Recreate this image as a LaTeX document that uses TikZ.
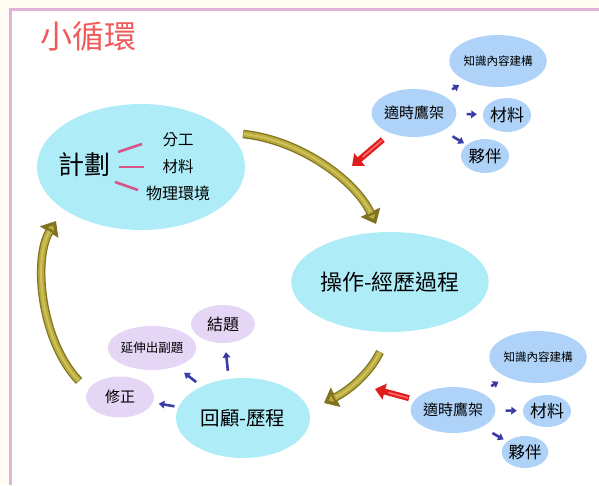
\documentclass[tikz,border=0pt]{standalone}
\usepackage{fontspec}
\setmainfont{Noto Sans CJK TC}
\usetikzlibrary{shapes.geometric,arrows.meta}
\definecolor{bgout}{HTML}{FFFCF4}
\definecolor{framec}{HTML}{E0B4D6}
\definecolor{titlec}{HTML}{F05A5A}
\definecolor{cyanE}{HTML}{AEEDF8}
\definecolor{blueE}{HTML}{AFD3F8}
\definecolor{lavE}{HTML}{E6D6F6}
\definecolor{pinkL}{HTML}{D8558A}
\definecolor{arrB}{HTML}{3B3BA8}
\definecolor{goldD}{HTML}{7F7320}
\definecolor{goldM}{HTML}{B9AA3E}
\definecolor{goldL}{HTML}{CFC25A}
\definecolor{redA}{HTML}{E01E1E}
\definecolor{redL}{HTML}{FF6A6A}
\tikzset{
  ell/.style={ellipse, draw=none, inner sep=0pt, text=black},
  cyanell/.style={ell, fill=cyanE},
  blueell/.style={ell, fill=blueE},
  lavell/.style={ell, fill=lavE},
  fs/.style={font=\fontsize{#1}{#1}\selectfont},
  bluearr/.style={draw=arrB, line width=2.6pt, -{Triangle[length=5.5pt,width=7.5pt]}},
  pinkline/.style={draw=pinkL, line width=2.6pt},
  goldbase/.style={draw=goldD, line width=8.5pt, -{Triangle[length=13pt,width=21pt,fill=goldM]}},
  goldmid/.style={draw=goldM, line width=6pt},
  goldhl/.style={draw=goldL, line width=2pt},
  redbase/.style={draw=redA, line width=6pt, -{Triangle[length=10pt,width=16pt,fill=redA]}},
  redhl/.style={draw=redL, line width=1.6pt},
}
\begin{document}
\begin{tikzpicture}[x=1pt,y=-1pt]
\useasboundingbox (0,0) rectangle (599,485);
\fill[bgout] (0,0) rectangle (599,485);
\fill[white] (10.5,9) rectangle (599,485);
\draw[framec, line width=3pt] (599,9) -- (10.5,9) -- (10.5,485);

% title
\node[fs=32, text=titlec] (title) at (88,36) {小循環};

% plan
\node[cyanell, minimum width=208pt, minimum height=126pt] (plan) at (141,167) {};
\node[fs=26] (plantxt) at (84,165) {計劃};
\node[fs=15.5] (p1) at (178,140) {分工};
\node[fs=15.5] (p2) at (178,167) {材料};
\node[fs=16] (p3) at (178,193) {物理環境};
\draw[pinkline] (118,152) -- (142,144);
\draw[pinkline] (119,167) -- (144,167);
\draw[pinkline] (115,182) -- (138,190);

% operation
\node[cyanell, fs=22, minimum width=168pt, minimum height=100pt] (oper) at (390,282) {操作-經歷過程};

% review
\node[cyanell, fs=19.5, minimum width=134pt, minimum height=80pt] (rev) at (243,418) {回顧-歷程};
\node[lavell, fs=15, minimum width=68pt, minimum height=41pt] (fix) at (120,397) {修正};
\node[lavell, fs=12.5, minimum width=72pt, minimum height=44pt] (ext) at (152,348) {延伸出副題};
\node[lavell, fs=16, minimum width=64pt, minimum height=38pt] (concl) at (223,324) {結題};
\draw[bluearr, shorten <=4pt, shorten >=6pt] (rev) -- (fix);
\draw[bluearr, shorten <=7pt, shorten >=10pt] (rev) -- (ext);
\draw[bluearr, shorten <=8pt, shorten >=9pt] (rev.110) -- (concl);

% top scaffold cluster
\node[blueell, fs=15, minimum width=78pt, minimum height=48pt] (scaf) at (414,113) {適時鷹架};
\node[blueell, fs=11.5, minimum width=76pt, minimum height=52pt] (know) at (498,61) {知識內容建構};
\node[blueell, fs=17, minimum width=48pt, minimum height=34pt] (mat) at (507,115) {材料};
\node[blueell, fs=16.5, minimum width=48pt, minimum height=34pt] (part) at (485,156) {夥伴};
\draw[bluearr, shorten <=11pt, shorten >=8pt] (scaf) -- (know);
\draw[bluearr, shorten <=10pt, shorten >=6pt] (scaf) -- (mat);
\draw[bluearr, shorten <=11pt, shorten >=3pt] (scaf) -- (part);

% bottom scaffold cluster
\node[blueell, fs=15, minimum width=78pt, minimum height=46pt] (scaf2) at (453,410) {適時鷹架};
\node[blueell, fs=11.5, minimum width=76pt, minimum height=52pt] (know2) at (538,357) {知識內容建構};
\node[blueell, fs=17, minimum width=48pt, minimum height=32pt] (mat2) at (547,411) {材料};
\node[blueell, fs=16.5, minimum width=46pt, minimum height=32pt] (part2) at (525,452) {夥伴};
\draw[bluearr, shorten <=12pt, shorten >=9pt] (scaf2) -- (know2);
\draw[bluearr, shorten <=10pt, shorten >=6pt] (scaf2) -- (mat2);
\draw[bluearr, shorten <=12pt, shorten >=4pt] (scaf2) -- (part2);

% red arrows
\coordinate (rt1) at (352,166);
\coordinate (rt2) at (375,389);
\draw[redbase, shorten <=10pt] (scaf) -- (rt1);
\draw[redhl, shorten <=11pt, shorten >=14pt] (scaf) -- (rt1);
\draw[redbase, shorten <=6pt] (scaf2) -- (rt2);
\draw[redhl, shorten <=7pt, shorten >=14pt] (scaf2) -- (rt2);

% gold cycle arrows
\coordinate (g1s) at (243,134);
\coordinate (g1e) at (376,224);
\coordinate (g2s) at (380,352);
\coordinate (g2e) at (324,403);
\coordinate (g3s) at (79,381);
\coordinate (g3e) at (56,221);
\draw[goldbase] (g1s) .. controls (300,140) and (355,180) .. (g1e);
\draw[goldmid, shorten <=0.6pt, shorten >=12pt] (g1s) .. controls (300,140) and (355,180) .. (g1e);
\draw[goldhl, shorten <=0.6pt, shorten >=13pt] (g1s) .. controls (300,140) and (355,180) .. (g1e);
\draw[goldbase] (g2s) .. controls (368,376) and (346,392) .. (g2e);
\draw[goldmid, shorten <=0.6pt, shorten >=12pt] (g2s) .. controls (368,376) and (346,392) .. (g2e);
\draw[goldhl, shorten <=0.6pt, shorten >=13pt] (g2s) .. controls (368,376) and (346,392) .. (g2e);
\draw[goldbase] (g3s) .. controls (40,340) and (33,258) .. (g3e);
\draw[goldmid, shorten <=0.6pt, shorten >=12pt] (g3s) .. controls (40,340) and (33,258) .. (g3e);
\draw[goldhl, shorten <=0.6pt, shorten >=13pt] (g3s) .. controls (40,340) and (33,258) .. (g3e);
\end{tikzpicture}
\end{document}
